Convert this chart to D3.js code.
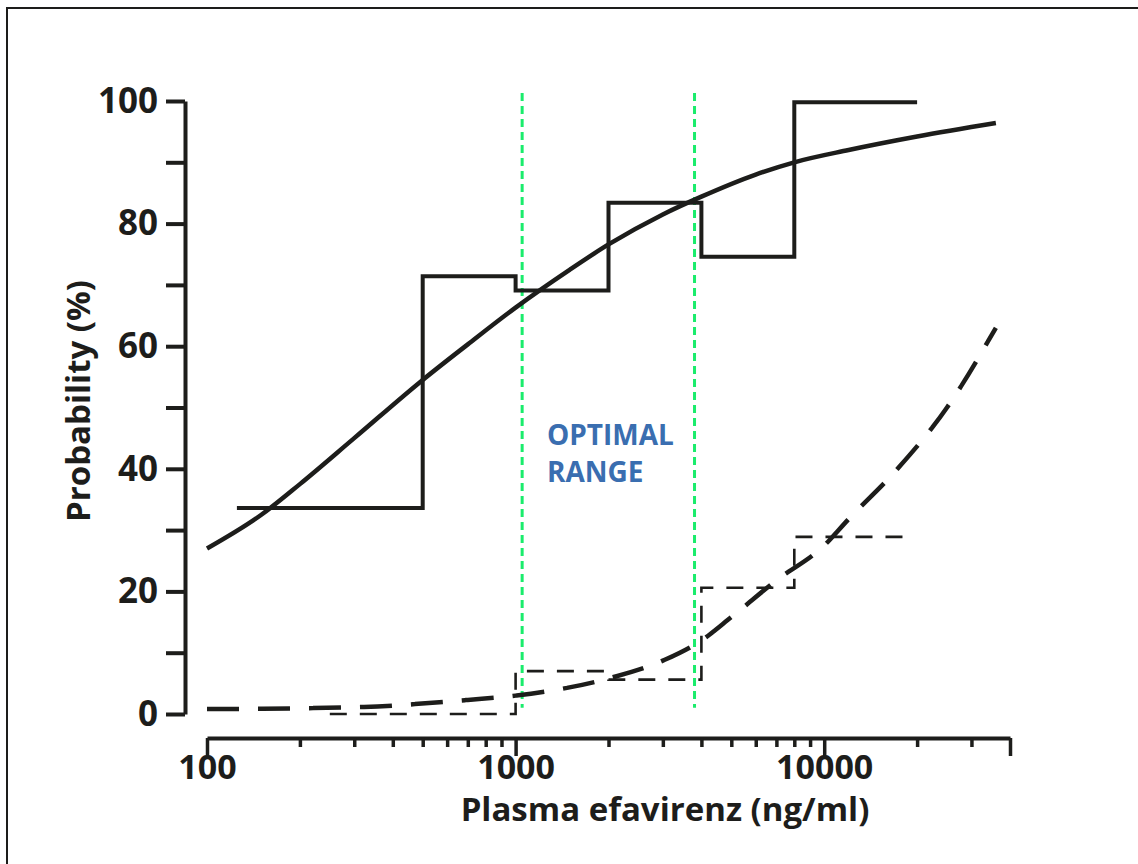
<!DOCTYPE html>
<html>
<head>
<meta charset="utf-8">
<script src="https://cdn.jsdelivr.net/npm/d3@7"></script>
<style>
  body { margin: 0; background: #fff; }
  svg text { font-family: "Open Sans", sans-serif; font-weight: 700; }
</style>
</head>
<body>
<svg id="chart" width="1138" height="864"></svg>
<script>
const svg = d3.select('#chart')
const ink = '#1d1d1b'
const green = '#1aec6c'
const blue = '#3a6eb0'

// efficacy: observed steps + fitted curve
const effStepConc = [125, 500, 1000, 2000, 4000, 8000, 20000]
const effStepProb = [33.6, 71.4, 69.1, 83.4, 74.6, 99.8]
const effFitConc = [100, 150, 200, 300, 500, 700, 1000, 1500, 2000, 3000, 4000, 6000, 8000, 12000, 20000, 36000]
const effFitProb = [27, 32.5, 37.5, 45, 54.5, 60.3, 66.3, 72.5, 76.6, 81.5, 84.4, 88, 90, 92, 94.2, 96.4]

// toxicity: observed steps + fitted curve
const toxStepConc = [250, 1000, 2000, 4000, 8000, 18000]
const toxStepProb = [0, 7.0, 5.6, 20.6, 28.9]
const toxFitConc = [100, 300, 700, 1000, 2000, 3000, 4000, 5000, 7000, 10000, 12000, 17000, 25000, 36000]
const toxFitProb = [0.8, 1.1, 2.3, 3.0, 5.8, 8.7, 12, 15.8, 21.8, 27.5, 31.8, 39.6, 50, 63]

// optimal range markers
const rangeConc = [1050, 3800]
const rangeSpan = [1, 101.3]

const xDomain = [100, 40000]
const xLabelTicks = [100, 1000, 10000]
const yTicks = [0, 10, 20, 30, 40, 50, 60, 70, 80, 90, 100]
const yLabelTicks = [0, 20, 40, 60, 80, 100]

const x = d3.scaleLog().domain(xDomain).range([207, 1010])
const y = d3.scaleLinear().domain([0, 100]).range([714, 101])

// frame (top + left edges)
svg.append('rect')
  .attr('x', 7).attr('y', 8)
  .attr('width', 1200).attr('height', 900)
  .attr('fill', 'none').attr('stroke', ink).attr('stroke-width', 2)

// y axis
const yAxis = d3.axisLeft(y)
  .tickValues(yTicks)
  .tickSize(19)
  .tickSizeOuter(0)
  .tickPadding(8)
  .tickFormat(d => yLabelTicks.includes(d) ? d : '')
const gy = svg.append('g')
  .attr('transform', 'translate(185,0)')
  .call(yAxis)
gy.selectAll('path, line').attr('stroke', ink).attr('stroke-width', 4)
gy.selectAll('text').attr('fill', ink).style('font-size', '35px')

// x axis
const minorTicks = []
for (let d = 100; d <= 40000; d *= 10) {
  for (let k = 1; k < 10; k++) {
    const v = d * k
    if (v <= 40000) minorTicks.push(v)
  }
}
const xAxis = d3.axisBottom(x)
  .tickValues(minorTicks)
  .tickSizeOuter(0)
  .tickPadding(11)
  .tickFormat(d => xLabelTicks.includes(d) ? d : '')
const gx = svg.append('g')
  .attr('transform', 'translate(0,738)')
  .call(xAxis)
gx.selectAll('path').attr('stroke', ink).attr('stroke-width', 4)
gx.selectAll('.tick line')
  .attr('stroke', ink).attr('stroke-width', 3.5)
  .attr('y2', d => (xLabelTicks.includes(d) || d === 40000) ? 18 : 9)
gx.selectAll('text').attr('fill', ink).style('font-size', '34px')

// axis titles
svg.append('text')
  .attr('x', 665).attr('y', 821)
  .attr('text-anchor', 'middle')
  .attr('fill', ink)
  .style('font-size', '33px')
  .text('Plasma efavirenz (ng/ml)')

svg.append('text')
  .attr('transform', 'translate(90,401) rotate(-90)')
  .attr('text-anchor', 'middle')
  .attr('fill', ink)
  .style('font-size', '33px')
  .text('Probability (%)')

// optimal range lines
svg.selectAll('line.range')
  .data(rangeConc)
  .enter()
  .append('line')
  .attr('class', 'range')
  .attr('x1', d => x(d)).attr('x2', d => x(d))
  .attr('y1', y(rangeSpan[1])).attr('y2', y(rangeSpan[0]))
  .attr('stroke', green)
  .attr('stroke-width', 3)
  .attr('stroke-dasharray', '8 5')

const label = svg.append('text')
  .attr('x', 547).attr('y', 445)
  .attr('fill', blue)
  .style('font-size', '28px')
label.append('tspan').attr('x', 547).text('OPTIMAL')
label.append('tspan').attr('x', 547).attr('dy', 37).text('RANGE')

// step lines
const stepPts = (cs, ps) => cs.map((c, i) => [c, i < ps.length ? ps[i] : ps[ps.length - 1]])
const stepLine = d3.line()
  .x(d => x(d[0]))
  .y(d => y(d[1]))
  .curve(d3.curveStepAfter)

svg.append('path')
  .attr('d', stepLine(stepPts(effStepConc, effStepProb)))
  .attr('fill', 'none')
  .attr('stroke', ink)
  .attr('stroke-width', 4)

svg.append('path')
  .attr('d', stepLine(stepPts(toxStepConc, toxStepProb)))
  .attr('fill', 'none')
  .attr('stroke', ink)
  .attr('stroke-width', 2.6)
  .attr('stroke-dasharray', '17 13')

// fitted curves
const fitLine = d3.line()
  .x(d => x(d[0]))
  .y(d => y(d[1]))
  .curve(d3.curveMonotoneX)

svg.append('path')
  .attr('d', fitLine(effFitConc.map((c, i) => [c, effFitProb[i]])))
  .attr('fill', 'none')
  .attr('stroke', ink)
  .attr('stroke-width', 4.5)

svg.append('path')
  .attr('d', fitLine(toxFitConc.map((c, i) => [c, toxFitProb[i]])))
  .attr('fill', 'none')
  .attr('stroke', ink)
  .attr('stroke-width', 4.5)
  .attr('stroke-dasharray', '4 0 28 19')
</script>
</body>
</html>
